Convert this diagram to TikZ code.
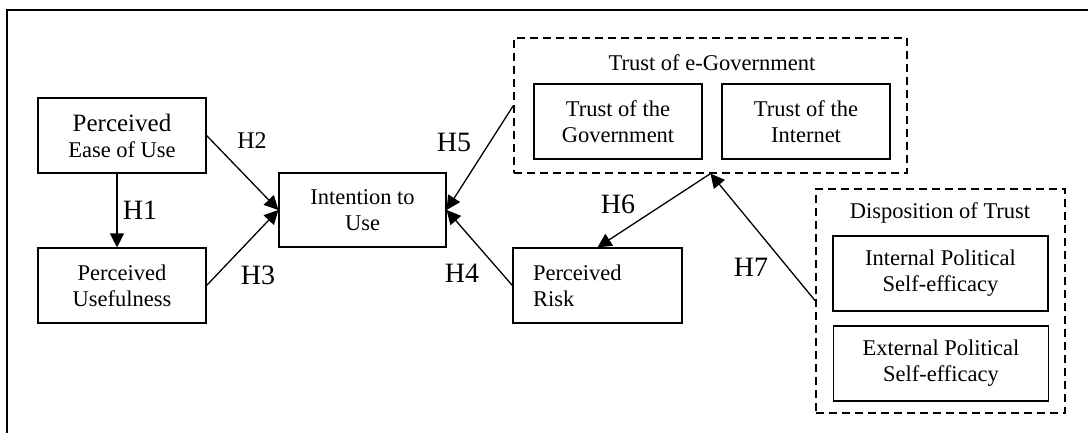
\documentclass[tikz,border=0pt]{standalone}
\usepackage{fontspec}
\setmainfont{Liberation Serif}
\usetikzlibrary{arrows.meta,positioning}

\begin{document}
\begin{tikzpicture}[
  x=1pt, y=-1pt,
  construct/.style={draw, line width=1.2pt, minimum width=168pt, minimum height=75pt, inner sep=0pt, align=center, font=\fontsize{22.5}{26}\selectfont},
  groupbox/.style={draw, line width=1.2pt, dash pattern=on 8pt off 5pt},
  title/.style={font=\fontsize{22.5}{26}\selectfont},
  hyp/.style={font=\fontsize{28}{30}\selectfont},
  link/.style={-{Triangle[length=14pt,width=14pt]}, line width=1.3pt}
]
  \useasboundingbox (0,0) rectangle (1088,433);
  \draw[line width=1.5pt] (7,433) -- (7,10) -- (1088,10);

  % TAM constructs
  \node[construct] (peou) at (122,135.5) {{\fontsize{25}{26}\selectfont Perceived}\\Ease of Use};
  \node[construct] (pu) at (122,285.5) {Perceived\\Usefulness};
  \node[construct, minimum width=167pt, minimum height=74pt] (itu) at (362.5,210) {Intention to\\Use};

  % Trust of e-Government
  \node[groupbox, minimum width=393pt, minimum height=135pt] (tgov) at (710.5,105.5) {};
  \node[title] (tgovtitle) at (712,63) {Trust of e-Government};
  \node[construct] (tg) at (618,121.5) {Trust of the\\Government};
  \node[construct] (ti) at (806,121.5) {Trust of the\\Internet};

  % Risk
  \node[construct, minimum width=0pt, text width=129pt, inner xsep=20pt, align=left] (risk) at (597.5,285.5) {Perceived\\Risk};

  % Disposition of Trust
  \node[groupbox, minimum width=249pt, minimum height=224pt] (disp) at (940.5,301) {};
  \node[title] (disptitle) at (940,213) {Disposition of Trust};
  \node[construct, minimum width=215pt] (ipse) at (940.5,273.5) {Internal Political\\Self-efficacy};
  \node[construct, minimum width=215pt] (epse) at (941,363.5) {External Political\\Self-efficacy};

  % Hypotheses
  \draw[link] ([xshift=-5pt]peou.south) -- ([xshift=-5pt]pu.north);
  \draw[link] (peou.east) -- (itu.west);
  \draw[link] (pu.east) -- (itu.west);
  \draw[link] (tgov.west) -- (itu.east);
  \draw[link] (risk.west) -- (itu.east);
  \draw[link] (tgov.south) -- (risk.north);
  \draw[link] (disp.west) -- (tgov.south);

  \node[hyp] (h1) at (140,210) {H1};
  \node[font=\fontsize{24}{26}\selectfont] (h2) at (252,141) {H2};
  \node[hyp] (h3) at (258,275) {H3};
  \node[hyp] (h4) at (462,273) {H4};
  \node[hyp] (h5) at (454,142) {H5};
  \node[hyp] (h6) at (618,204) {H6};
  \node[hyp] (h7) at (751,267) {H7};
\end{tikzpicture}
\end{document}
